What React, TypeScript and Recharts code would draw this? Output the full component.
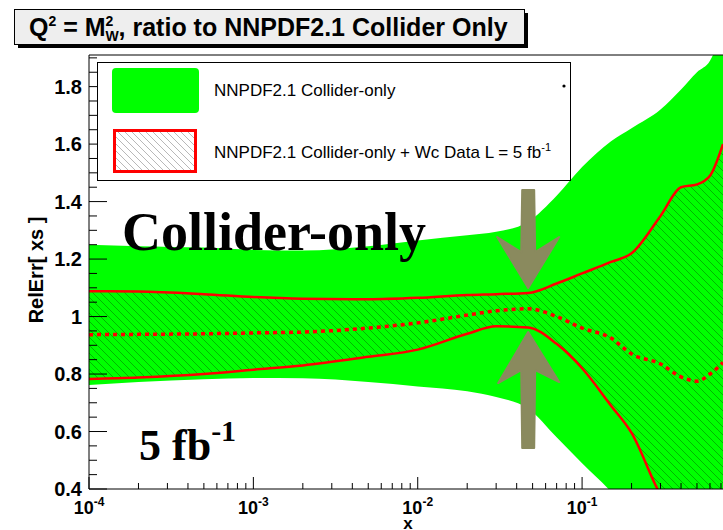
import { ComposedChart, Area, Line, XAxis, YAxis, ReferenceLine, ReferenceDot } from 'recharts'

// x grid of the bands (log axis)
const xValues = [1e-4, 2e-4, 5e-4, 1e-3, 2e-3, 5e-3, 1e-2, 2e-2, 3e-2, 4.7e-2, 7e-2, 0.1, 0.15, 0.2, 0.3, 0.4, 0.5, 0.6, 0.72]
// NNPDF2.1 collider-only band
const greenHigh = [1.25, 1.245, 1.24, 1.232, 1.23, 1.245, 1.265, 1.283, 1.295, 1.33, 1.42, 1.52, 1.61, 1.655, 1.72, 1.79, 1.85, 1.89, 2.0]
const greenLow = [0.762, 0.772, 0.782, 0.786, 0.785, 0.772, 0.757, 0.74, 0.72, 0.68, 0.58, 0.49, 0.39, 0.3, 0.15, 0.05, 0, 0, 0]
// + Wc data, L = 5 fb-1
const wcHigh = [1.088, 1.087, 1.078, 1.068, 1.062, 1.06, 1.065, 1.075, 1.078, 1.082, 1.115, 1.15, 1.19, 1.22, 1.35, 1.45, 1.46, 1.49, 1.6]
const wcLow = [0.783, 0.788, 0.8, 0.815, 0.83, 0.86, 0.885, 0.94, 0.966, 0.962, 0.905, 0.82, 0.69, 0.595, 0.38, 0.28, 0.2, 0.15, 0.1]
const wcCentral = [0.937, 0.938, 0.94, 0.943, 0.946, 0.96, 0.978, 1.005, 1.02, 1.027, 1.0, 0.96, 0.925, 0.87, 0.835, 0.79, 0.775, 0.8, 0.84]

const xMajorTicks = [1e-4, 1e-3, 1e-2, 1e-1]
const xMinorSteps = [2, 3, 4, 5, 6, 7, 8, 9]
const yTicks = [0.4, 0.45, 0.5, 0.55, 0.6, 0.65, 0.7, 0.75, 0.8, 0.85, 0.9, 0.95, 1, 1.05, 1.1, 1.15, 1.2, 1.25, 1.3, 1.35, 1.4, 1.45, 1.5, 1.55, 1.6, 1.65, 1.7, 1.75, 1.8, 1.85, 1.9]
const yLabels = [0.4, 0.6, 0.8, 1, 1.2, 1.4, 1.6, 1.8]

const X_MIN = 1e-4
const X_MAX = 0.72
const Y_MIN = 0.4
const Y_MAX = 1.91

const SANS = '"Liberation Sans", Arial, Helvetica, sans-serif'
const SERIF = '"Liberation Serif", "Times New Roman", serif'
const GREEN = '#00ff00'
const RED = '#ff0000'
const ARROW = '#8a8a5e'

const xTicks = [
  ...xMajorTicks,
  ...xMajorTicks.flatMap((d) => xMinorSteps.map((m) => +(d * m).toPrecision(3))).filter((v) => v < X_MAX),
].sort((a, b) => a - b)

const data = xValues.map((x, i) => ({
  x,
  green: [greenLow[i], greenHigh[i]],
  wc: [wcLow[i], wcHigh[i]],
  wcHigh: wcHigh[i],
  wcLow: wcLow[i],
  wcCentral: wcCentral[i],
}))

const XTick = ({ x, y, payload }: any) => {
  const v = payload.value
  const major = xMajorTicks.includes(v)
  return (
    <g>
      <line x1={x} x2={x} y1={y} y2={y - (major ? 12 : 6)} stroke="#000" />
      {major && (
        <text x={x} y={y + 25} textAnchor="middle" fontFamily={SANS} fontWeight="bold" fontSize={18} fill="#000">
          10
          <tspan dy={-8} fontSize={12}>
            {Math.round(Math.log10(v))}
          </tspan>
        </text>
      )}
    </g>
  )
}

const YTick = ({ x, y, payload }: any) => {
  const v = payload.value
  const major = yLabels.includes(v)
  return (
    <g>
      <line x1={x} x2={x + (major ? 18 : 8)} y1={y} y2={y} stroke="#000" />
      {major && (
        <text x={x - 7} y={y + 7} textAnchor="end" fontFamily={SANS} fontWeight="bold" fontSize={20} fill="#000">
          {String(v)}
        </text>
      )}
    </g>
  )
}

const arrowDown = [[0, 0], [-31, -51], [-7, -36], [-6, -98], [6, -98], [7, -36], [31, -51]]
const arrowUp = [[0, 0], [-30, 51], [-7, 38], [-6, 116], [6, 116], [7, 38], [31, 50]]

const Arrow = ({ cx, cy, pts }: any) => (
  <polygon
    points={pts.map(([dx, dy]: number[]) => `${cx + dx},${cy + dy}`).join(' ')}
    fill={ARROW}
    stroke={ARROW}
    strokeWidth={2}
    strokeLinejoin="round"
  />
)

export default function App() {
  return (
    <div style={{ position: 'absolute', left: 0, top: 0, width: 723, height: 530, overflow: 'hidden', background: '#fff' }}>
      <ComposedChart width={723} height={530} data={data} margin={{ top: 55, right: 0, bottom: 0, left: 0 }}>
        <defs>
          <pattern id="hatch" patternUnits="userSpaceOnUse" width={8} height={8}>
            <path d="M0,0 L8,8 M-2,6 L2,10 M6,-2 L10,2" stroke="#000" strokeOpacity={0.4} strokeWidth={0.7} />
          </pattern>
        </defs>
        <XAxis
          dataKey="x"
          type="number"
          scale="log"
          domain={[X_MIN, X_MAX]}
          allowDataOverflow
          ticks={xTicks}
          interval={0}
          tick={<XTick />}
          tickLine={false}
          tickSize={0}
          tickMargin={0}
          height={41}
          axisLine={{ stroke: '#000' }}
        />
        <YAxis
          type="number"
          domain={[Y_MIN, Y_MAX]}
          allowDataOverflow
          ticks={yTicks}
          interval={0}
          tick={<YTick />}
          tickLine={false}
          tickSize={0}
          tickMargin={0}
          width={89}
          axisLine={{ stroke: '#000' }}
        />
        <Area dataKey="green" type="monotone" fill={GREEN} fillOpacity={1} stroke="none" isAnimationActive={false} />
        <Area dataKey="wc" type="monotone" fill="url(#hatch)" fillOpacity={1} stroke="none" isAnimationActive={false} />
        <Line dataKey="wcHigh" type="monotone" stroke={RED} strokeWidth={2.5} dot={false} isAnimationActive={false} />
        <Line dataKey="wcLow" type="monotone" stroke={RED} strokeWidth={2.5} dot={false} isAnimationActive={false} />
        <Line
          dataKey="wcCentral"
          type="monotone"
          stroke={RED}
          strokeWidth={3.5}
          strokeDasharray="4 4"
          dot={false}
          isAnimationActive={false}
        />
        <ReferenceLine y={Y_MAX} stroke="#000" ifOverflow="visible" />
        <ReferenceDot x={0.047} y={1.099} ifOverflow="visible" shape={(p: any) => <Arrow {...p} pts={arrowDown} />} />
        <ReferenceDot x={0.047} y={0.946} ifOverflow="visible" shape={(p: any) => <Arrow {...p} pts={arrowUp} />} />
      </ComposedChart>

      <svg width={723} height={530} style={{ position: 'absolute', left: 0, top: 0, pointerEvents: 'none' }}>
        <defs>
          <pattern id="hatchLegend" patternUnits="userSpaceOnUse" width={7} height={7}>
            <path d="M0,0 L7,7 M-2,5 L2,9 M5,-2 L9,2" stroke="#999" strokeWidth={0.7} />
          </pattern>
        </defs>

        {/* title box */}
        <rect x={18} y={13} width={510} height={35} fill="#000" />
        <rect x={14.5} y={9.5} width={510} height={35} fill="#eeeeee" stroke="#000" />
        <text x={29} y={36} fontFamily={SANS} fontWeight="bold" fontSize={25} fill="#000">
          Q<tspan dy={-10} fontSize={14}>2</tspan>
          <tspan dy={10}> = M</tspan>
          <tspan dy={-10} fontSize={14}>2</tspan>
          <tspan dx={-8} dy={15} fontSize={14}>W</tspan>
          <tspan dy={-5}>, ratio to NNPDF2.1 Collider Only</tspan>
        </text>

        {/* legend */}
        <rect x={97.5} y={62.5} width={473} height={118} fill="#fff" stroke="#000" />
        <rect x={112} y={68} width={87} height={45} rx={4} fill={GREEN} />
        <text x={214} y={96} fontFamily={SANS} fontSize={17} fill="#000">
          NNPDF2.1 Collider-only
        </text>
        <rect x={114.5} y={130.5} width={81} height={41} fill="url(#hatchLegend)" stroke={RED} strokeWidth={3} />
        <text x={214} y={158} fontFamily={SANS} fontSize={17} fill="#000">
          NNPDF2.1 Collider-only + Wc Data L = 5 fb<tspan dy={-7} fontSize={11}>-1</tspan>
        </text>
        <circle cx={564} cy={86} r={1.6} fill="#000" />

        {/* annotations */}
        <text x={122} y={250} fontFamily={SERIF} fontWeight="bold" fontSize={54} fill="#000">
          Collider-only
        </text>
        <text x={139} y={460} fontFamily={SERIF} fontWeight="bold" fontSize={44} fill="#000">
          5 fb<tspan dy={-19} fontSize={30}>-1</tspan>
        </text>

        {/* axis titles */}
        <text x={408} y={529} textAnchor="middle" fontFamily={SANS} fontWeight="bold" fontSize={17} fill="#000">
          x
        </text>
        <text
          x={0}
          y={0}
          transform="translate(43,270) rotate(-90)"
          textAnchor="middle"
          fontFamily={SANS}
          fontWeight="bold"
          fontSize={20}
          fill="#000"
        >
          RelErr[ xs ]
        </text>
      </svg>
    </div>
  )
}
